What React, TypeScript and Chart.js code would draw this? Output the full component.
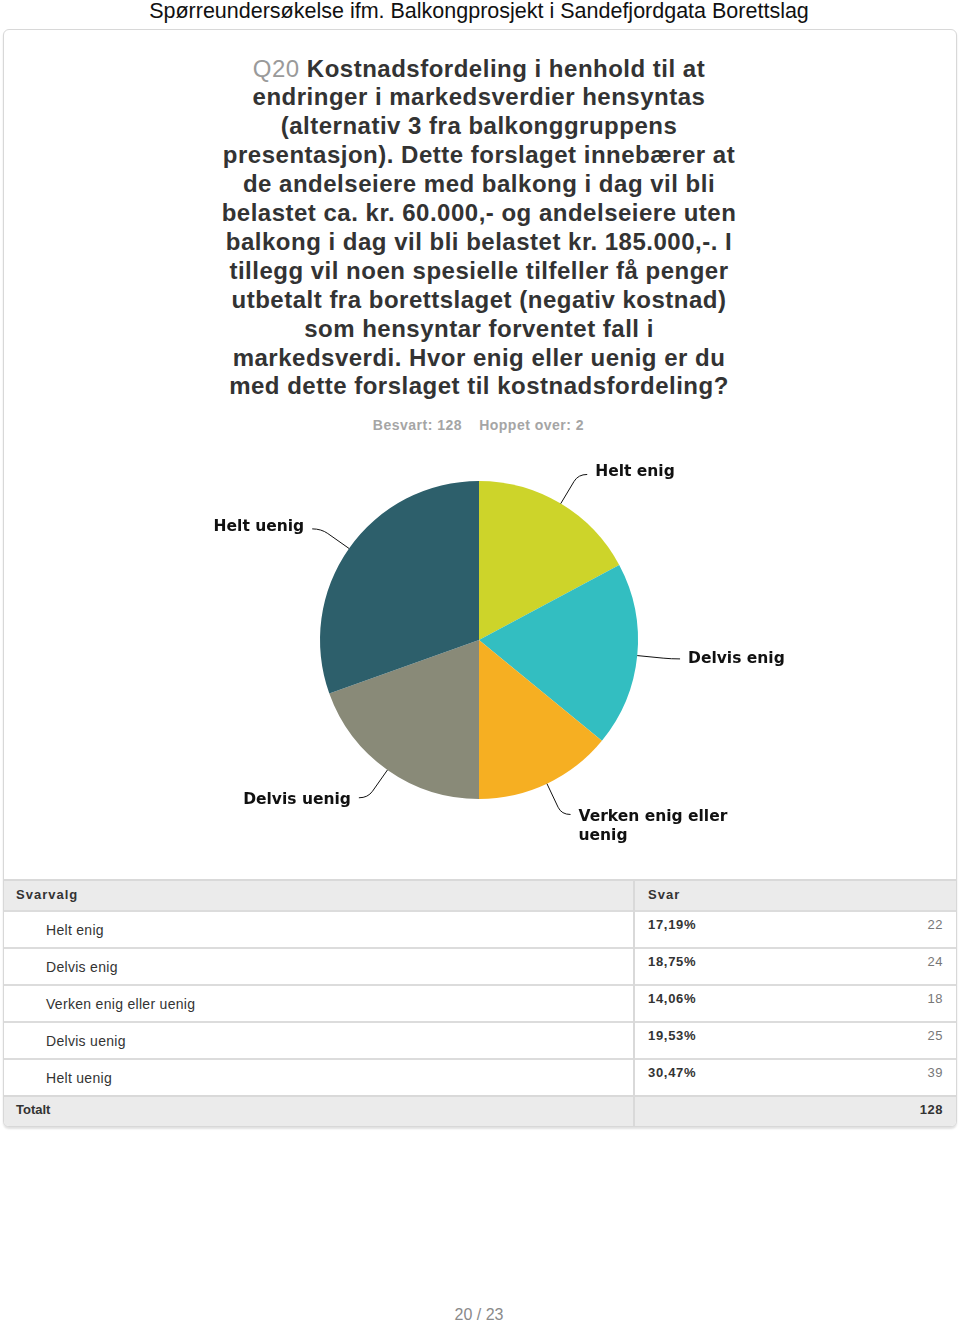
import React, { useEffect, useRef } from "react";
import { Chart, registerables } from "chart.js";

Chart.register(...registerables);

const pageTitle = "Spørreundersøkelse ifm. Balkongprosjekt i Sandefjordgata Borettslag";
const questionNumber = "Q20";
const questionLines = [
  "Kostnadsfordeling i henhold til at",
  "endringer i markedsverdier hensyntas",
  "(alternativ 3 fra balkonggruppens",
  "presentasjon). Dette forslaget innebærer at",
  "de andelseiere med balkong i dag vil bli",
  "belastet ca. kr. 60.000,- og andelseiere uten",
  "balkong i dag vil bli belastet kr. 185.000,-. I",
  "tillegg vil noen spesielle tilfeller få penger",
  "utbetalt fra borettslaget (negativ kostnad)",
  "som hensyntar forventet fall i",
  "markedsverdi. Hvor enig eller uenig er du",
  "med dette forslaget til kostnadsfordeling?",
];
const answeredCount = 128;
const skippedCount = 2;

const categories = ["Helt enig", "Delvis enig", "Verken enig eller uenig", "Delvis uenig", "Helt uenig"];
const counts = [22, 24, 18, 25, 39];
const percents = ["17,19%", "18,75%", "14,06%", "19,53%", "30,47%"];
const colors = ["#CDD42A", "#33BEC1", "#F6AF22", "#898A78", "#2D5F6B"];
const totalCount = 128;
const pageNumber = "20 / 23";

const outLabelPlugin = {
  id: "outLabels",
  afterDatasetsDraw(chart: any) {
    const ctx = chart.ctx as CanvasRenderingContext2D;
    const meta = chart.getDatasetMeta(0);
    ctx.save();
    ctx.font = "bold 15.5px 'DejaVu Sans', Verdana, sans-serif";
    ctx.fillStyle = "#111";
    ctx.strokeStyle = "#111";
    ctx.lineWidth = 1;
    meta.data.forEach((arc: any, i: number) => {
      const p = arc.getProps(["x", "y", "startAngle", "endAngle", "outerRadius"], true);
      const mid = (p.startAngle + p.endAngle) / 2;
      const c = Math.cos(mid);
      const s = Math.sin(mid);
      const r = p.outerRadius;
      const x0 = p.x + c * r, y0 = p.y + s * r;
      const x1 = p.x + c * (r + 26), y1 = p.y + s * (r + 26);
      const xc = p.x + c * (r + 34), yc = p.y + s * (r + 34);
      const side = c >= 0 ? 1 : -1;
      const x2 = xc + side * 9, y2 = yc;
      ctx.beginPath();
      ctx.moveTo(x0, y0);
      ctx.lineTo(x1, y1);
      ctx.quadraticCurveTo(xc, yc, x2, y2);
      ctx.stroke();
      const words = String(chart.data.labels[i]).split(" ");
      const lines: string[] = [];
      let cur = "";
      words.forEach((w) => {
        const t = cur ? cur + " " + w : w;
        if (ctx.measureText(t).width > 160 && cur) {
          lines.push(cur);
          cur = w;
        } else cur = t;
      });
      if (cur) lines.push(cur);
      ctx.textAlign = side > 0 ? "left" : "right";
      ctx.textBaseline = "middle";
      const ty = y2 + s * 3;
      lines.forEach((ln, k) => {
        ctx.fillText(ln, x2 + side * 8, ty + k * 19);
      });
    });
    ctx.restore();
  },
};

function PieChart() {
  const ref = useRef<HTMLCanvasElement | null>(null);
  useEffect(() => {
    if (!ref.current) return;
    const chart = new Chart(ref.current, {
      type: "pie",
      data: {
        labels: categories,
        datasets: [
          {
            data: counts,
            backgroundColor: colors,
            borderWidth: 0,
            hoverOffset: 0,
          },
        ],
      },
      options: {
        responsive: false,
        animation: false,
        layout: { padding: { left: 317, right: 319, top: 41, bottom: 61 } },
        plugins: { legend: { display: false }, tooltip: { enabled: false } },
        events: [],
      },
      plugins: [outLabelPlugin],
    });
    return () => chart.destroy();
  }, []);
  return (
    <canvas
      ref={ref}
      width={954}
      height={420}
      style={{ position: "absolute", left: 3, top: 440, width: 954, height: 420 }}
    />
  );
}

const sans = "'Liberation Sans', Arial, Helvetica, sans-serif";

export default function App() {
  const rowTop = (i: number) => 910 + 37 * i;
  return (
    <div
      style={{
        position: "absolute",
        left: 0,
        top: 0,
        width: 960,
        height: 1323,
        background: "#fff",
        fontFamily: sans,
        overflow: "hidden",
      }}
    >
      <div
        style={{
          position: "absolute",
          left: 0,
          top: 0,
          width: 958,
          textAlign: "center",
          fontSize: 21.5,
          lineHeight: "22px",
          color: "#111",
        }}
      >
        {pageTitle}
      </div>

      <div
        style={{
          position: "absolute",
          left: 3,
          top: 29,
          width: 952,
          height: 1096,
          border: "1px solid #d8d8d8",
          borderRadius: 6,
          boxShadow: "0 2px 2px rgba(0,0,0,0.12)",
          background: "#fff",
        }}
      />

      <div
        style={{
          position: "absolute",
          left: 0,
          top: 54.5,
          width: 958,
          textAlign: "center",
          fontSize: 24,
          lineHeight: "28.9px",
          fontWeight: "bold",
          letterSpacing: 0.5,
          color: "#333",
        }}
      >
        {questionLines.map((ln, i) => (
          <div key={i}>
            {i === 0 ? (
              <span style={{ color: "#9a9a9a", fontWeight: "normal" }}>{questionNumber} </span>
            ) : null}
            {ln}
          </div>
        ))}
      </div>

      <div
        style={{
          position: "absolute",
          left: 0,
          top: 417,
          width: 957,
          textAlign: "center",
          fontSize: 14,
          lineHeight: "16px",
          fontWeight: "bold",
          letterSpacing: 0.5,
          color: "#a5a5a5",
          whiteSpace: "pre",
        }}
      >
        <span>Besvart: {answeredCount}</span>
        <span style={{ marginLeft: 17 }}>Hoppet over: {skippedCount}</span>
      </div>

      <PieChart />

      <div style={{ position: "absolute", left: 4, top: 879, width: 952, height: 31, background: "#ebebeb", borderTop: "2px solid #d9d9d9", boxSizing: "border-box" }} />
      <div style={{ position: "absolute", left: 16, top: 887, fontSize: 13, lineHeight: "16px", fontWeight: "bold", letterSpacing: 1, color: "#333" }}>Svarvalg</div>
      <div style={{ position: "absolute", left: 648, top: 887, fontSize: 13, lineHeight: "16px", fontWeight: "bold", letterSpacing: 1, color: "#333" }}>Svar</div>

      {categories.map((cat, i) => (
        <React.Fragment key={cat}>
          <div style={{ position: "absolute", left: 4, top: rowTop(i), width: 952, height: 2, background: "#dcdcdc" }} />
          <div style={{ position: "absolute", left: 46, top: rowTop(i) + 12, fontSize: 14, lineHeight: "16px", letterSpacing: 0.3, color: "#333" }}>{cat}</div>
          <div style={{ position: "absolute", left: 648, top: rowTop(i) + 7, fontSize: 13, lineHeight: "16px", fontWeight: "bold", letterSpacing: 0.7, color: "#333" }}>{percents[i]}</div>
          <div style={{ position: "absolute", right: 960 - 943, top: rowTop(i) + 7, fontSize: 13, lineHeight: "16px", letterSpacing: 0.5, color: "#777", textAlign: "right" }}>{counts[i]}</div>
        </React.Fragment>
      ))}

      <div style={{ position: "absolute", left: 4, top: 1095, width: 952, height: 31, background: "#ebebeb", borderTop: "2px solid #d9d9d9", boxSizing: "border-box", borderRadius: "0 0 5px 5px" }} />
      <div style={{ position: "absolute", left: 16, top: 1102, fontSize: 13, lineHeight: "16px", fontWeight: "bold", color: "#333" }}>Totalt</div>
      <div style={{ position: "absolute", right: 960 - 943, top: 1102, fontSize: 13, lineHeight: "16px", fontWeight: "bold", letterSpacing: 0.5, color: "#333" }}>{totalCount}</div>

      <div style={{ position: "absolute", left: 633, top: 879, width: 2, height: 247, background: "#d9d9d9" }} />

      <div
        style={{
          position: "absolute",
          left: 0,
          top: 1306,
          width: 958,
          textAlign: "center",
          fontSize: 16,
          lineHeight: "18px",
          color: "#8a8a8a",
        }}
      >
        {pageNumber}
      </div>
    </div>
  );
}
